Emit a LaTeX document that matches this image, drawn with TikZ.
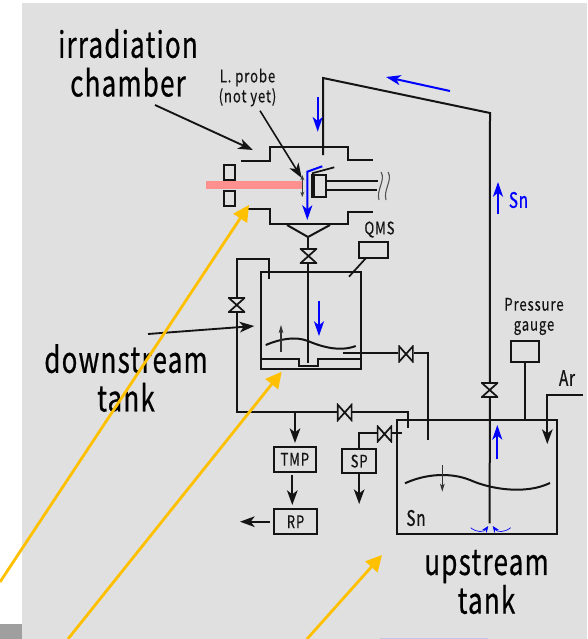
\documentclass[tikz,border=0pt]{standalone}
\usepackage{fontspec}
\usetikzlibrary{arrows.meta}
\newfontfamily\gth[FakeStretch=0.72,LetterSpace=3.5,FakeBold=0.6]{Noto Sans CJK JP}
\newfontfamily\gtl[FakeStretch=0.76,LetterSpace=5,FakeBold=0.3]{Noto Sans CJK JP}
\definecolor{bg}{HTML}{E0E0E0}
\definecolor{ink}{HTML}{141414}
\definecolor{laser}{HTML}{FF9090}
\definecolor{orng}{HTML}{FFC000}
\definecolor{sblue}{HTML}{0000FF}
\tikzset{
  pipe/.style={draw=ink,line width=1.5pt},
  thinpipe/.style={draw=ink,line width=1.3pt},
  flow/.style={draw=ink,line width=1.4pt,-{Stealth[length=11pt,width=8pt,inset=3pt]}},
  thinflow/.style={draw=ink!85!bg,line width=0.8pt,-{Stealth[length=6pt,width=3.5pt,inset=1.5pt]}},
  blueflow/.style={draw=sblue,line width=1.5pt,-{Stealth[length=11pt,width=7.5pt,inset=3pt]}},
  orngarrow/.style={draw=orng,line width=2.1pt,-{Triangle[length=12pt,width=12pt]}},
  box/.style={draw=ink,line width=1.4pt,fill=none,inner sep=0pt,outer sep=0pt,anchor=north west},
  boxtext/.style={text=ink,inner sep=0pt,font=\gtl\fontsize{13}{14}\selectfont},
  bigtext/.style={text=black,align=center,inner sep=0pt,font=\gth\fontsize{27}{29}\selectfont},
  smalltext/.style={text=ink,align=center,inner sep=0pt,font=\gtl\fontsize{13}{15}\selectfont},
  midtext/.style={inner sep=0pt,font=\gth\fontsize{16}{18}\selectfont},
  valvev/.style={fill=bg,minimum width=12.8pt,minimum height=11.6pt,inner sep=0pt,path picture={
    \draw[ink,line width=1.3pt]
      ([shift={(0.6pt,-0.6pt)}]path picture bounding box.north west) -- ([shift={(-0.6pt,-0.6pt)}]path picture bounding box.north east)
      -- ([shift={(0.6pt,0.6pt)}]path picture bounding box.south west) -- ([shift={(-0.6pt,0.6pt)}]path picture bounding box.south east) -- cycle;}},
  valveh/.style={fill=bg,minimum width=11.6pt,minimum height=12.8pt,inner sep=0pt,path picture={
    \draw[ink,line width=1.3pt]
      ([shift={(0.6pt,-0.6pt)}]path picture bounding box.north west) -- ([shift={(-0.6pt,0.6pt)}]path picture bounding box.south east)
      -- ([shift={(-0.6pt,-0.6pt)}]path picture bounding box.north east) -- ([shift={(0.6pt,0.6pt)}]path picture bounding box.south west) -- cycle;}},
}
\begin{document}
\begin{tikzpicture}[x=0.75pt,y=-0.75pt]
\useasboundingbox (0,0) rectangle (587,639);
% backgrounds
\fill[white] (0,0) rectangle (587,639);
\fill[bg] (22,3) rectangle (587,639);
\fill[gray!75] (0,624) rectangle (22,639);
\fill[blue!12!bg] (380,638) rectangle (488,639);
% laser
\fill[laser] (206,181.3) rectangle (303,189);
% coordinates
\coordinate (chTopL) at (241,161); \coordinate (chTopR) at (373,160);
\coordinate (chBotL) at (248,209); \coordinate (chBotR) at (373,212);
\coordinate (funnel) at (308,237);
\coordinate (inTop) at (323,78); \coordinate (inCorner) at (490,113);
\coordinate (inEnd) at (323,155); \coordinate (dipEnd) at (489.7,523.3);
\coordinate (dropEnd) at (308,363);
% chamber
\draw[pipe] (chTopL) -- (270,161) -- (270,146.7) -- (348,146.7) -- (348,160) -- (chTopR);
\draw[pipe] (chBotL) -- (270,209) -- (270,224) -- (348,224) -- (348,212) -- (chBotR);
\draw[pipe] (287,225) -- (funnel) -- (330,225);
% windows
\node[box,minimum width=8.5pt,minimum height=11.5pt] (winA) at (223.7,164.7) {};
\node[box,minimum width=8.5pt,minimum height=11.5pt] (winB) at (223.7,190.7) {};
% holder
\node[box,minimum width=8.6pt,minimum height=16pt] (holder) at (314.3,175.3) {};
\draw[draw=ink,line width=2.2pt] (312,173.5) -- (312,197.5);
\draw[thinpipe] (312,173.3) -- (334.3,167.3);
\draw[thinpipe] (holder.north east |- 0,180.7) -- (378.3,180.7);
\draw[thinpipe] (holder.north east |- 0,190) -- (376.7,190);
\draw[draw=ink!70!bg,line width=0.8pt] (381,172) .. controls (386,180) and (376,190) .. (379,200);
\draw[draw=ink!70!bg,line width=0.8pt] (388,172) .. controls (393,180) and (383,190) .. (386,200);
\draw[draw=ink!80!bg,line width=0.6pt,{Stealth[length=4pt,width=3pt]}-{Stealth[length=4pt,width=3pt]}] (302.3,175) -- (302.3,197);
% inlet pipe
\draw[pipe] (inEnd) -- (inTop) -- (inCorner) -- (dipEnd);
\draw[pipe] (funnel) -- (dropEnd);
% downstream tank
\node[box,minimum width=75.2pt,minimum height=73pt] (dtank) at (260.7,272) {};
\draw[pipe] (dtank.west |- 0,359.3) -- (299.3,359.3) -- (299.3,366.3) -- (318,366.3) -- (318,359.3) -- (dtank.east |- 0,359.3);
\draw[pipe] (265.7,345) .. controls (280,339) and (295,336) .. (308,341) .. controls (322,347) and (340,352) .. (355.7,346);
\draw[thinflow] (281,351.7) -- (281,325);
% side lines
\draw[pipe] (269.3,279) -- (269.3,259.3) -- (236.7,259.3) -- (236.7,412.3) -- (408.3,412.3) -- (408.3,428.3);
\draw[pipe] (342.7,353.3) -- (427.7,353.3) -- (427.7,440);
% upstream tank
\node[box,minimum width=120.4pt,minimum height=85.7pt] (utank) at (396.7,420) {};
\draw[pipe] (405,483.3) .. controls (425,474) and (450,472) .. (470,480) .. controls (490,489) and (525,495) .. (550,483);
\draw[thinflow] (442.3,465) -- (442.3,491.7);
% QMS
\node[box,minimum width=21.8pt,minimum height=12.2pt] (qms) at (359,241.7) {};
\draw[thinpipe] (366,258) -- (349,276.7);
% pressure gauge
\node[box,minimum width=21pt,minimum height=16pt] (gauge) at (511,341) {};
\draw[pipe] (gauge.south) -- (gauge.south |- utank.north);
% boxes
\node[box,minimum width=31.7pt,minimum height=18.5pt] (tmp) at (273.7,447) {};
\node[boxtext] (tmpT) at (tmp.center) {TMP};
\node[box,minimum width=31.8pt,minimum height=18.7pt] (rp) at (274.3,509.3) {};
\node[boxtext] (rpT) at (rp.center) {RP};
\node[box,minimum width=25.3pt,minimum height=18.2pt] (sp) at (342.3,449) {};
\node[boxtext] (spT) at (sp.center) {SP};
\coordinate (tmpIn) at (295,412.3);
\coordinate (spOut) at (sp.south |- 0,504); \coordinate (rpOut) at (240,521.7);
\draw[flow] (tmpIn) -- (295,443);
\draw[flow] (292.3,475) -- (292.3,505);
\draw[flow] (270,521.7) -- (rpOut);
\draw[flow] (sp.south) -- (spOut);
\draw[pipe] (sp.north) -- (sp.north |- 0,433.3) -- (401.7,433.3);
% Ar
\coordinate (arIn) at (582.7,395);
\draw[flow] (arIn) -- (547.3,395) -- (547.3,444);
% valves
\node[valvev] (v1) at (308.5,256) {};
\node[valvev] (v2) at (236.7,305) {};
\node[valvev] (v3) at (489.7,390) {};
\node[valveh] (v4) at (406,354) {};
\node[valveh] (v5) at (344.7,412.5) {};
\node[valveh] (v6) at (384.5,434) {};
% black annotation arrows
\draw[flow] (155,105) -- (253,150);
\draw[flow,line width=1.2pt] (260,110.7) -- (301.7,178);
\draw[flow] (148,334) -- (254.3,326);
% blue
\draw[blueflow] (317.7,97.3) -- (317.7,131.7);
\draw[blueflow] (450,91) -- (386,77);
\draw[blueflow] (498,214) -- (498,182);
\draw[blueflow] (319,301) -- (319,336);
\draw[blueflow] (497.3,459.3) -- (497.3,425);
\draw[blueflow] (322.3,166.3) -- (307.3,171.7) -- (307.3,220);
\draw[draw=sblue,line width=0.5pt,-{Stealth[length=5pt,width=4pt]}] (470.7,527.7) .. controls (477,533) and (484,532) .. (488.3,526);
\draw[draw=sblue,line width=0.5pt,-{Stealth[length=5pt,width=4pt]}] (510.7,527.7) .. controls (504,533) and (497,532) .. (492.7,526);
% labels
\node[bigtext] (lblA) at (128,63) {irradiation\\chamber};
\node[bigtext] (lblB) at (126,378) {downstream\\tank};
\node[bigtext] (lblC) at (486.5,582) {upstream\\tank};
\node[smalltext] (lblD) at (247.5,87.5) {L. probe\\(not yet)};
\node[smalltext] (lblE) at (379.5,229.5) {QMS};
\node[smalltext] (lblF) at (534,316.5) {Pressure\\gauge};
\node[midtext,text=ink] (lblG) at (567,378) {Ar};
\node[midtext,text=ink] (lblH) at (416,518) {Sn};
\node[midtext,text=sblue] (lblI) at (518.5,200) {Sn};
% orange arrows
\draw[orngarrow] (0,582) -- (249,205);
\draw[orngarrow] (68,639) -- (281.7,371.7);
\draw[orngarrow] (307,639) -- (382,555);
\end{tikzpicture}
\end{document}
